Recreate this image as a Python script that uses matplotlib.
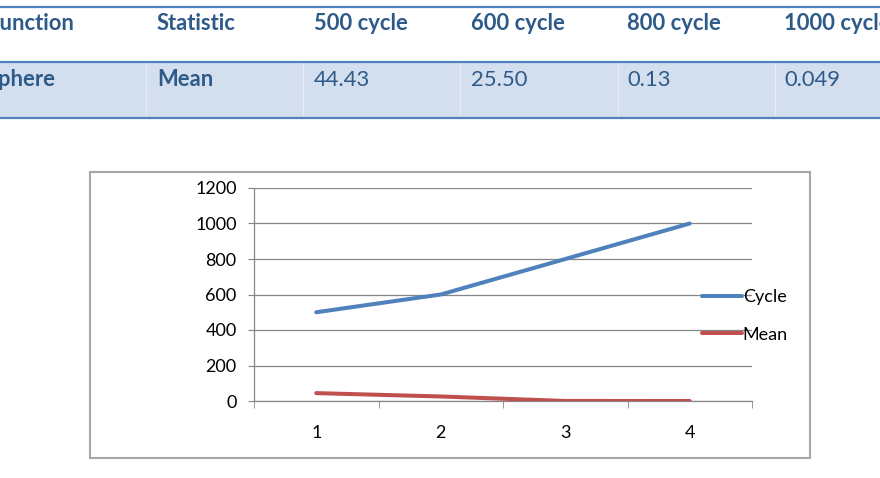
import matplotlib
matplotlib.use("Agg")
import matplotlib.pyplot as plt
from matplotlib.patches import Rectangle
from matplotlib.lines import Line2D

# ---- data ----
table_header = ["Function", "Statistic", "500 cycle", "600 cycle", "800 cycle", "1000 cycle"]
table_row = ["Sphere", "Mean", "44.43", "25.50", "0.13", "0.049"]
categories = [1, 2, 3, 4]
cycle = [500, 600, 800, 1000]
mean = [44.43, 25.50, 0.13, 0.049]

W, H = 880, 478
FONT = "Lato"
fig = plt.figure(figsize=(W / 100, H / 100), dpi=100)
fig.patch.set_facecolor("white")

def fx(px):
    return px / W

def fy(py):
    return 1 - py / H

# ---- table (top of page) ----
line_col = "#4F81BD"
text_col = "#2E5A8A"
fig.patches.append(Rectangle((0, fy(118)), 1, fy(62) - fy(118), transform=fig.transFigure,
                             facecolor="#D3DFEE", edgecolor="none", zorder=-2))
for xb in [146, 303, 460, 618, 775]:
    fig.lines.append(Line2D([fx(xb), fx(xb)], [fy(118), fy(62)], transform=fig.transFigure,
                            color="#E4ECF6", lw=0.8))
for yl in [7, 62, 118]:
    fig.lines.append(Line2D([0, 1], [fy(yl), fy(yl)], transform=fig.transFigure,
                            color=line_col, lw=1.6))
col_x = [-13, 157, 314, 471, 627, 784]
for i, (h, v) in enumerate(zip(table_header, table_row)):
    fig.text(fx(col_x[i]), fy(24), h, ha="left", va="center", fontsize=15.8,
             fontweight="bold", color=text_col, family=FONT)
    fig.text(fx(col_x[i]), fy(80), v, ha="left", va="center", fontsize=15.8,
             fontweight="bold" if i < 2 else "normal", color=text_col, family=FONT)

# ---- chart frame ----
fig.patches.append(Rectangle((fx(90), fy(458)), fx(810) - fx(90), fy(172) - fy(458),
                             transform=fig.transFigure, facecolor="none",
                             edgecolor="#A6A6A6", lw=1.5, zorder=-1))

ax = fig.add_axes([fx(254), fy(401), fx(752) - fx(254), fy(188) - fy(401)])
ax.set_facecolor("none")
ax.plot(categories, cycle, color="#4F81BD", lw=2.9, label="Cycle", solid_capstyle="round", zorder=3)
ax.plot(categories, mean, color="#C0504D", lw=2.9, label="Mean", solid_capstyle="round", zorder=3)
ax.set_xlim(0.5, 4.5)
ax.set_ylim(0, 1200)
ax.set_yticks(range(0, 1201, 200))
ax.set_xticks(categories)
ax.set_xticks([0.5, 1.5, 2.5, 3.5, 4.5], minor=True)
ax.grid(axis="y", color="#868686", lw=0.9)
ax.set_axisbelow(True)
for s in ["top", "right"]:
    ax.spines[s].set_visible(False)
for s in ["left", "bottom"]:
    ax.spines[s].set_color("#868686")
    ax.spines[s].set_linewidth(0.9)
ax.tick_params(axis="x", which="major", length=0, pad=17, labelsize=13)
ax.tick_params(axis="x", which="minor", length=5, color="#868686", direction="out")
ax.tick_params(axis="y", length=4, color="#868686", pad=8.5, labelsize=13)
for lab in ax.get_xticklabels() + ax.get_yticklabels():
    lab.set_family(FONT)

leg = ax.legend(loc="center left", bbox_to_anchor=(fx(686 - 254) / fx(752 - 254), 0.40),
                frameon=False, handlelength=2.2, handletextpad=0.05, labelspacing=1.2,
                prop={"family": FONT, "size": 13})

fig.savefig("out.png", dpi=100)
